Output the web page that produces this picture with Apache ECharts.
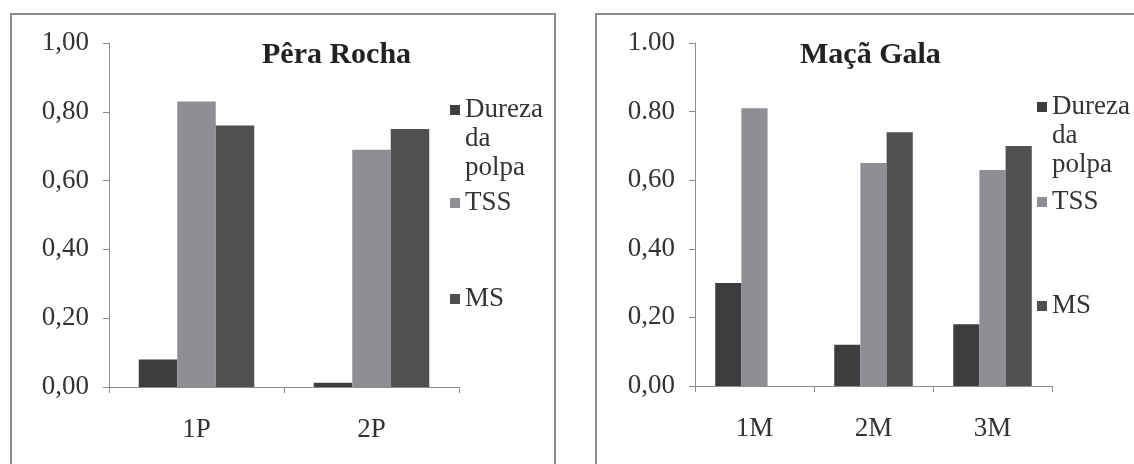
<!DOCTYPE html>
<html>
<head>
<meta charset="utf-8">
<script src="https://cdn.jsdelivr.net/npm/echarts@6/dist/echarts.min.js"></script>
<style>
html,body{margin:0;padding:0;background:#fff;}
#chart{width:1134px;height:464px;}
</style>
</head>
<body>
<div id="chart"></div>
<script>
// ---- data ----
const seriesNames = ['Dureza da polpa', 'TSS', 'MS'];
const panelTitles = ['Pêra Rocha', 'Maçã Gala'];

const pearCategories = ['1P', '2P'];
const pearDureza = [0.08, 0.012];
const pearTSS = [0.83, 0.69];
const pearMS = [0.76, 0.75];
const pearTickLabels = ['0,00', '0,20', '0,40', '0,60', '0,80', '1,00'];

const appleCategories = ['1M', '2M', '3M'];
const appleDureza = [0.30, 0.12, 0.18];
const appleTSS = [0.81, 0.65, 0.63];
const appleMS = [null, 0.74, 0.70];
const appleTickLabels = ['0,00', '0,20', '0,40', '0,60', '0.80', '1.00'];

// ---- styles ----
const FONT = "'Liberation Serif', 'Times New Roman', serif";
const TEXT_COLOR = '#333';
const AXIS_COLOR = '#8c8c8c';
const COLORS = ['#3d3d40', '#8e8e95', '#505053'];
const LINE_H = 29;

function xAxisFor(cats, gridIndex) {
  return {
    type: 'category', gridIndex: gridIndex, data: cats,
    axisLine: { lineStyle: { color: AXIS_COLOR, width: 1 } },
    axisTick: { show: true, length: 6, lineStyle: { color: AXIS_COLOR } },
    axisLabel: { fontFamily: FONT, fontSize: 27, color: TEXT_COLOR, margin: 29 }
  };
}
function yAxisFor(ticks, gridIndex) {
  return {
    type: 'value', gridIndex: gridIndex, min: 0, max: 1, interval: 0.2,
    splitLine: { show: false },
    axisLine: { show: true, lineStyle: { color: AXIS_COLOR, width: 1 } },
    axisTick: { show: true, length: 6, lineStyle: { color: AXIS_COLOR } },
    axisLabel: {
      fontFamily: FONT, fontSize: 27, color: TEXT_COLOR, margin: 20,
      formatter: function (v) { return ticks[Math.round(v / 0.2)]; }
    }
  };
}
function barSeries(name, data, idx, color) {
  return {
    name: name, type: 'bar', xAxisIndex: idx, yAxisIndex: idx, data: data,
    barGap: '0%', barCategoryGap: '34%',
    itemStyle: { color: color },
    emphasis: { disabled: true }
  };
}
function legendFor(name, left, iconCenter) {
  const isDureza = name === seriesNames[0];
  // For the 3-line entry, the icon box spans all three lines and the square sits at the first line
  const h = isDureza ? LINE_H * 3 : 10;
  const icon = isDureza
    ? 'path://M0,' + (LINE_H / 2 - 5) + 'H10V' + (LINE_H / 2 + 5) + 'H0Z M0,0H0.001Z M0,' + (LINE_H * 3) + 'H0.001Z'
    : 'rect';
  return {
    data: [name], left: left, top: iconCenter - LINE_H / 2, orient: 'vertical',
    padding: 0, icon: icon, itemWidth: 10, itemHeight: h, symbolKeepAspect: false,
    formatter: function (n) { return n === seriesNames[0] ? 'Dureza\nda\npolpa' : n; },
    textStyle: { fontFamily: FONT, fontSize: 27, color: TEXT_COLOR, lineHeight: LINE_H }
  };
}

const option = {
  backgroundColor: '#ffffff',
  animation: false,
  color: COLORS,
  title: [
    { text: panelTitles[0], left: 262, top: 40, padding: 0,
      textStyle: { fontFamily: FONT, fontSize: 30, fontWeight: 'bold', color: '#222' } },
    { text: panelTitles[1], left: 800, top: 40, padding: 0,
      textStyle: { fontFamily: FONT, fontSize: 30, fontWeight: 'bold', color: '#222' } }
  ],
  legend: [
    legendFor(seriesNames[0], 450, 110),
    legendFor(seriesNames[1], 450, 203),
    legendFor(seriesNames[2], 450, 299),
    legendFor(seriesNames[0], 1037, 107),
    legendFor(seriesNames[1], 1037, 202),
    legendFor(seriesNames[2], 1037, 306)
  ],
  grid: [
    { left: 109, top: 43, width: 350, height: 344 },
    { left: 695, top: 43, width: 357, height: 343 }
  ],
  xAxis: [xAxisFor(pearCategories, 0), xAxisFor(appleCategories, 1)],
  yAxis: [yAxisFor(pearTickLabels, 0), yAxisFor(appleTickLabels, 1)],
  series: [
    barSeries(seriesNames[0], pearDureza, 0, COLORS[0]),
    barSeries(seriesNames[1], pearTSS, 0, COLORS[1]),
    barSeries(seriesNames[2], pearMS, 0, COLORS[2]),
    barSeries(seriesNames[0], appleDureza, 1, COLORS[0]),
    barSeries(seriesNames[1], appleTSS, 1, COLORS[1]),
    barSeries(seriesNames[2], appleMS, 1, COLORS[2])
  ],
  graphic: [
    { type: 'rect', shape: { x: 11, y: 14, width: 544, height: 470 }, silent: true,
      style: { fill: 'none', stroke: '#8a8a8a', lineWidth: 2 } },
    { type: 'rect', shape: { x: 596, y: 14, width: 560, height: 470 }, silent: true,
      style: { fill: 'none', stroke: '#8a8a8a', lineWidth: 2 } }
  ]
};

const chart = echarts.init(document.getElementById('chart'), null, { renderer: 'canvas' });
chart.setOption(option);
</script>
</body>
</html>
